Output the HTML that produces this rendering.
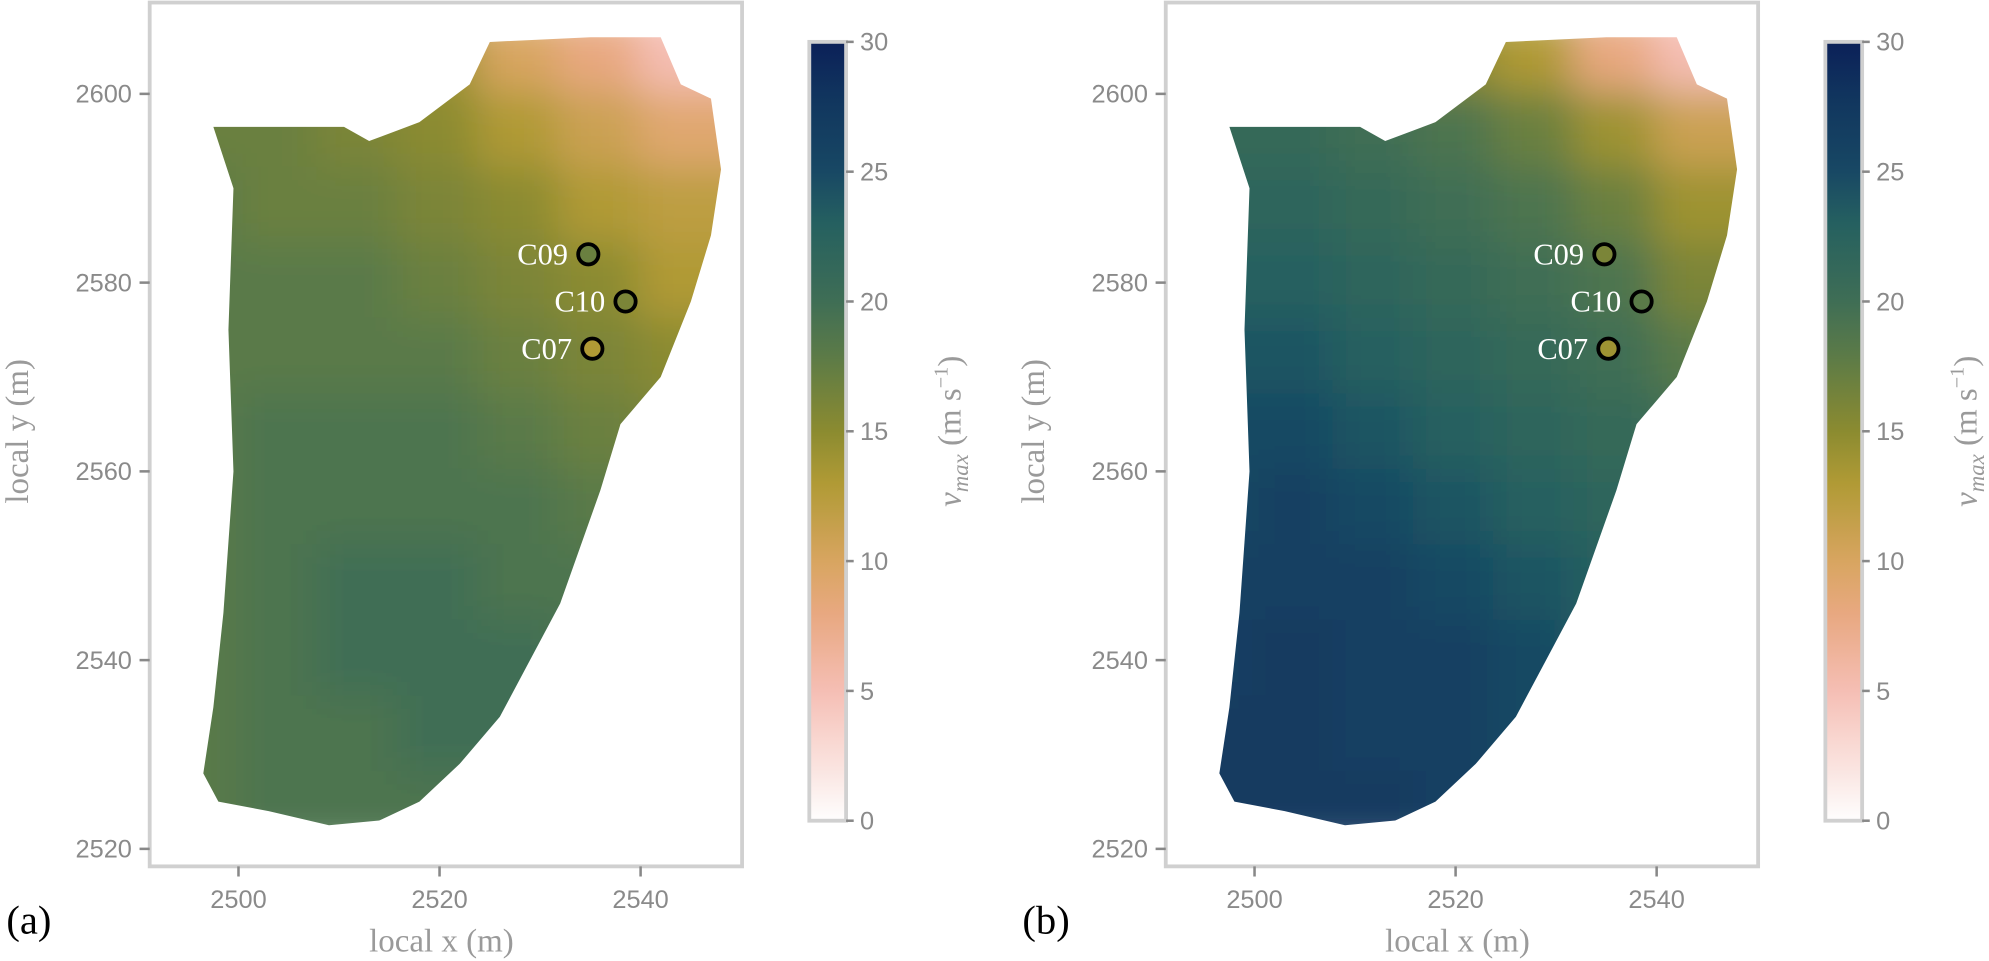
<!DOCTYPE html>
<html><head><meta charset="utf-8"><style>
body{margin:0;background:#fff}
svg{display:block}
.tick{font:20px "Liberation Sans",sans-serif;fill:#8a8a8a}
.ttl{font:26px "Liberation Serif",serif;fill:#9a9a9a}
</style></head><body>
<svg id="chart" width="1989" height="961" viewBox="0 0 1568 757.6"></svg>
<script>
const xTicks=[2500,2520,2540];
const yTicks=[2520,2540,2560,2580,2600];
const cbTicks=[0,5,10,15,20,25,30];
const gridX=[2496,2504,2512,2520,2528,2536,2544,2552];
const gridY=[2604,2596,2588,2580,2572,2564,2556,2548,2540,2532,2524];
const valuesA=[
[18,17,16,14,10,8,5,5],[17,17,16,15,13,11,9,9],[18,17,17,16,15,13,12,12],[18,18,18,17,16,15,13,13],
[18,18,18,18,17,16,15,15],[18,19,19,19,18,17,16,16],[18,19,19,19,19,18,17,17],[18,19,20,20,19,19,18,18],
[18,19,20,20,20,19,18,18],[18,19,19,20,20,19,19,19],[18,19,19,19,19,19,19,19]];
const valuesB=[
[20,19,18,15,13,8,5,5],[21,21,20,19,17,14,11,11],[22,22,21,20,19,17,14,14],[23,23,22,21,20,19,16,16],
[24,24,23,22,21,20,18,18],[25,25,24,23,22,21,20,20],[25,26,25,24,23,22,21,21],[26,26,26,25,24,23,22,22],
[26,27,26,26,25,23,22,22],[27,27,26,26,25,24,23,23],[27,27,27,26,25,24,24,24]];
const outlineX=[2497.5,2510.5,2513,2518,2523,2525,2535,2542,2544,2547,2548,2547,2545,2542,2538,2536,2534,2532,2529,2526,2522,2518,2514,2509,2503,2498,2496.5,2497.5,2498.5,2499.5,2499,2499.5];
const outlineY=[2596.5,2596.5,2595,2597,2601,2605.5,2606,2606,2601,2599.5,2592,2585,2578,2570,2565,2558,2552,2546,2540,2534,2529,2525,2523,2522.5,2524,2525,2528,2535,2545,2560,2575,2590];
const stationNames=["C09","C10","C07"];
const stationX=[2534.8,2538.5,2535.2];
const stationY=[2583,2578,2573];
const stationValA=[17,16,13];
const stationValB=[16,18,14];

const stops=[[0,[254,254,254]],[5,[245,190,180]],[8,[232,168,128]],[10,[216,165,96]],[13,[176,154,53]],[15,[139,139,48]],[18,[90,122,72]],[20,[63,110,85]],[23,[37,96,96]],[25,[24,72,100]],[28,[16,52,94]],[30,[11,32,88]]];
function cmap(v){for(let i=1;i<stops.length;i++){if(v<=stops[i][0]){const a=stops[i-1],b=stops[i];const t=(v-a[0])/(b[0]-a[0]);const c=a[1].map((q,k)=>Math.round(q+(b[1][k]-q)*t));return `rgb(${c})`;}}return 'rgb(11,32,88)';}
const NS='http://www.w3.org/2000/svg';
const svg=document.getElementById('chart');
function el(tag,attrs,parent){const e=document.createElementNS(NS,tag);for(const k in attrs)e.setAttribute(k,attrs[k]);(parent||svg).appendChild(e);return e;}
const defs=el('defs',{});
const f=el('filter',{id:'blur',x:'-20%',y:'-20%',width:'140%',height:'140%'},defs);
el('feGaussianBlur',{stdDeviation:'16'},f);
const cg=el('linearGradient',{id:'cbgrad',x1:'0',y1:'1',x2:'0',y2:'0'},defs);
for(let v=0;v<=30;v+=1){el('stop',{offset:(v/30),'stop-color':cmap(v)},cg);}

function panel(off,vals,stVals,letter){
  const sx=x=>188+off+(x-2500)*7.925;
  const sy=y=>74+(2600-y)*7.44;
  const g=el('g',{});
  
  
  const cp=el('clipPath',{id:'clip'+letter},defs);
  const pts=outlineX.map((x,i)=>sx(x)+','+sy(outlineY[i])).join(' ');
  el('polygon',{points:pts},cp);
  const fieldWrap=el('g',{'clip-path':'url(#clip'+letter+')'},g);
  
  
  const field=el('g',{filter:'url(#blur)'},fieldWrap);
  gridY.forEach((y,r)=>gridX.forEach((x,c)=>{
    const rc=el('rect',{x:sx(x-4)-2,y:sy(y+4)-2,width:8*7.925+4,height:8*7.44+4,fill:cmap(vals[r][c])},field);
    
    
  }));
  const box=el('rect',{x:118+off,y:2,width:467,height:681,fill:'none',stroke:'#d0d0d0','stroke-width':3},g);
  
  
  xTicks.forEach(t=>{
    el('line',{x1:sx(t),x2:sx(t),y1:683,y2:691,stroke:'#888','stroke-width':2},g);
    const tx=el('text',{x:sx(t),y:716,'text-anchor':'middle',class:'tick'},g);tx.textContent=t;
    
    
  });
  yTicks.forEach(t=>{
    el('line',{x1:110+off,x2:118+off,y1:sy(t),y2:sy(t),stroke:'#888','stroke-width':2},g);
    const tx=el('text',{x:104+off,y:sy(t)+7,'text-anchor':'end',class:'tick'},g);tx.textContent=t;
    
    
  });
  const xt=el('text',{x:348+off,y:750,'text-anchor':'middle',class:'ttl'},g);xt.textContent='local x (m)';
  
  
  const yt=el('text',{x:0,y:0,'text-anchor':'middle',class:'ttl',transform:`translate(${22+off},340) rotate(-90)`},g);yt.textContent='local y (m)';
  
  
  const lt=el('text',{x:5+off,y:736,style:'font:32px "Liberation Serif",serif;fill:#000'},g);lt.textContent='('+letter+')';
  
  
  stationNames.forEach((n,i)=>{
    const c=el('circle',{cx:sx(stationX[i]),cy:sy(stationY[i]),r:8,fill:cmap(stVals[i]),stroke:'#000','stroke-width':3},g);
    
    
    const t=el('text',{x:sx(stationX[i])-16,y:sy(stationY[i])+8,'text-anchor':'end',style:'font:24px "Liberation Serif",serif;fill:#fff'},g);t.textContent=n;
    
    
  });
  const cy=v=>647-(v/30)*614;
  const cb=el('rect',{x:638+off,y:33,width:29,height:614,fill:'url(#cbgrad)',stroke:'#d0d0d0','stroke-width':3},g);
  
  
  cbTicks.forEach(t=>{
    el('line',{x1:667+off,x2:673+off,y1:cy(t),y2:cy(t),stroke:'#888','stroke-width':2},g);
    const tx=el('text',{x:678+off,y:cy(t)+7,class:'tick'},g);tx.textContent=t;
    
    
  });
  const cl=el('text',{x:0,y:0,'text-anchor':'middle',class:'ttl',transform:`translate(${757+off},340) rotate(-90)`},g);
  cl.innerHTML='<tspan font-style="italic">v</tspan><tspan font-style="italic" font-size="18" dy="6">max</tspan><tspan dy="-6"> (m s</tspan><tspan font-size="16" dy="-10">−1</tspan><tspan dy="10">)</tspan>';
  
  
}
panel(0,valuesA,stationValA,'a');
panel(801,valuesB,stationValB,'b');
</script>
</body></html>
